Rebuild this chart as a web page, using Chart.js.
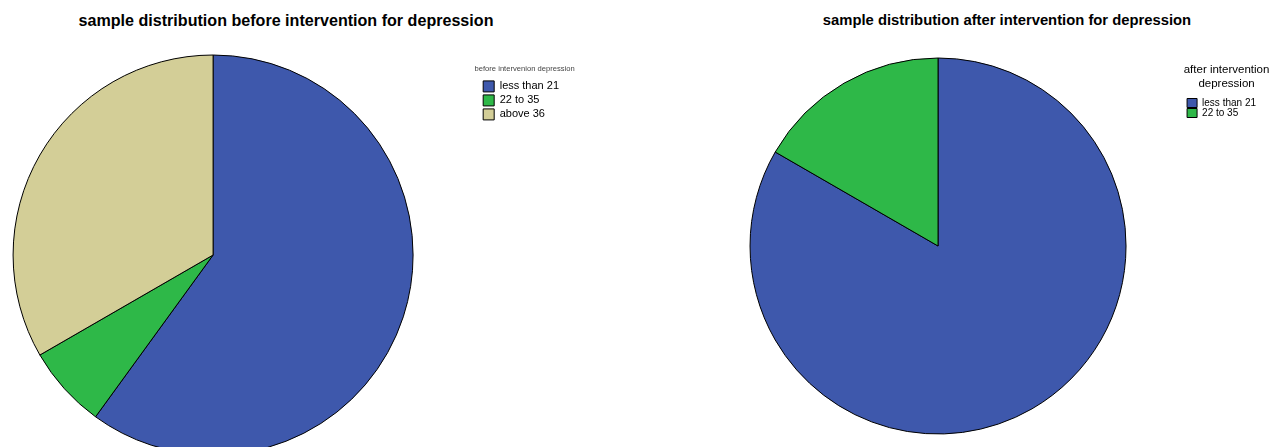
<!DOCTYPE html>
<html>
<head>
<meta charset="utf-8">
<script src="https://cdn.jsdelivr.net/npm/chart.js@4"></script>
<style>
  html, body { margin: 0; padding: 0; background: #fff; width: 1277px; height: 447px; overflow: hidden; position: relative; }
  canvas { position: absolute; top: 0; }
  #before_chart { left: -54px; }
  #after_chart { left: 689px; }
  .title {
    position: absolute; top: 10px; height: 20px; line-height: 20px;
    transform: translateX(-50%); white-space: nowrap;
    font-family: 'Liberation Sans', Arial, sans-serif; font-weight: bold; color: #000;
  }
  #before_title { left: 286px; font-size: 16.1px; }
  #after_title { left: 1007px; font-size: 14.8px; }
</style>
</head>
<body>
<div class="title" id="before_title">sample distribution before intervention for depression</div>
<div class="title" id="after_title">sample distribution after intervention for depression</div>
<canvas id="before_chart" width="682" height="465"></canvas>
<canvas id="after_chart" width="636" height="447"></canvas>
<script>
beforeLabels = ['less than 21', '22 to 35', 'above 36']
beforeCounts = [18, 2, 10]
afterLabels = ['less than 21', '22 to 35']
afterCounts = [25, 5]
colors = ['#3E58AC', '#2EB848', '#D3CE97']

Chart.defaults.font.family = "'Liberation Sans', Arial, sans-serif";
Chart.defaults.color = '#000';
Chart.defaults.animation = false;

// legend titles are wider than the legend box, so don't clip them
noLegendClip = {
    id: 'noLegendClip',
    afterInit(chart) {
        const lg = chart.legend;
        if (lg && typeof lg._draw === 'function') {
            lg.draw = function () { if (this.options.display) this._draw(); };
        }
    }
};

beforeConfig = {
    type: 'pie',
    data: {
        labels: beforeLabels,
        datasets: [{
            data: beforeCounts,
            backgroundColor: colors.slice(0, 3),
            borderColor: '#000',
            borderWidth: 1,
        }]
    },
    options: {
        responsive: false,
        radius: 200,
        layout: { padding: { left: 0, right: 59, top: 45, bottom: 0 } },
        plugins: {
            tooltip: { enabled: false },
            title: { display: false },
            legend: {
                position: 'right',
                align: 'start',
                fullSize: false,
                title: {
                    display: true,
                    text: 'before intervenion depression',
                    color: '#444',
                    font: { size: 7.6 },
                    padding: { top: 20.5, bottom: 3.3 },
                },
                labels: { font: { size: 11 }, boxWidth: 11, boxHeight: 11, padding: 3 },
            },
        },
    },
    plugins: [noLegendClip]
};

afterConfig = {
    type: 'pie',
    data: {
        labels: afterLabels,
        datasets: [{
            data: afterCounts,
            backgroundColor: colors.slice(0, 2),
            borderColor: '#000',
            borderWidth: 1,
        }]
    },
    options: {
        responsive: false,
        radius: 188,
        layout: { padding: { left: 0, right: 59, top: 45, bottom: 0 } },
        plugins: {
            tooltip: { enabled: false },
            title: { display: false },
            legend: {
                position: 'right',
                align: 'start',
                fullSize: false,
                title: {
                    display: true,
                    text: ['after intervention', 'depression'],
                    font: { size: 11.5 },
                    padding: { top: 19.1, bottom: 20.1 },
                },
                labels: { font: { size: 10 }, boxWidth: 10, boxHeight: 9, padding: 0 },
            },
        },
    },
    plugins: [noLegendClip]
};

new Chart(document.getElementById('before_chart'), beforeConfig);
new Chart(document.getElementById('after_chart'), afterConfig);
</script>
</body>
</html>
